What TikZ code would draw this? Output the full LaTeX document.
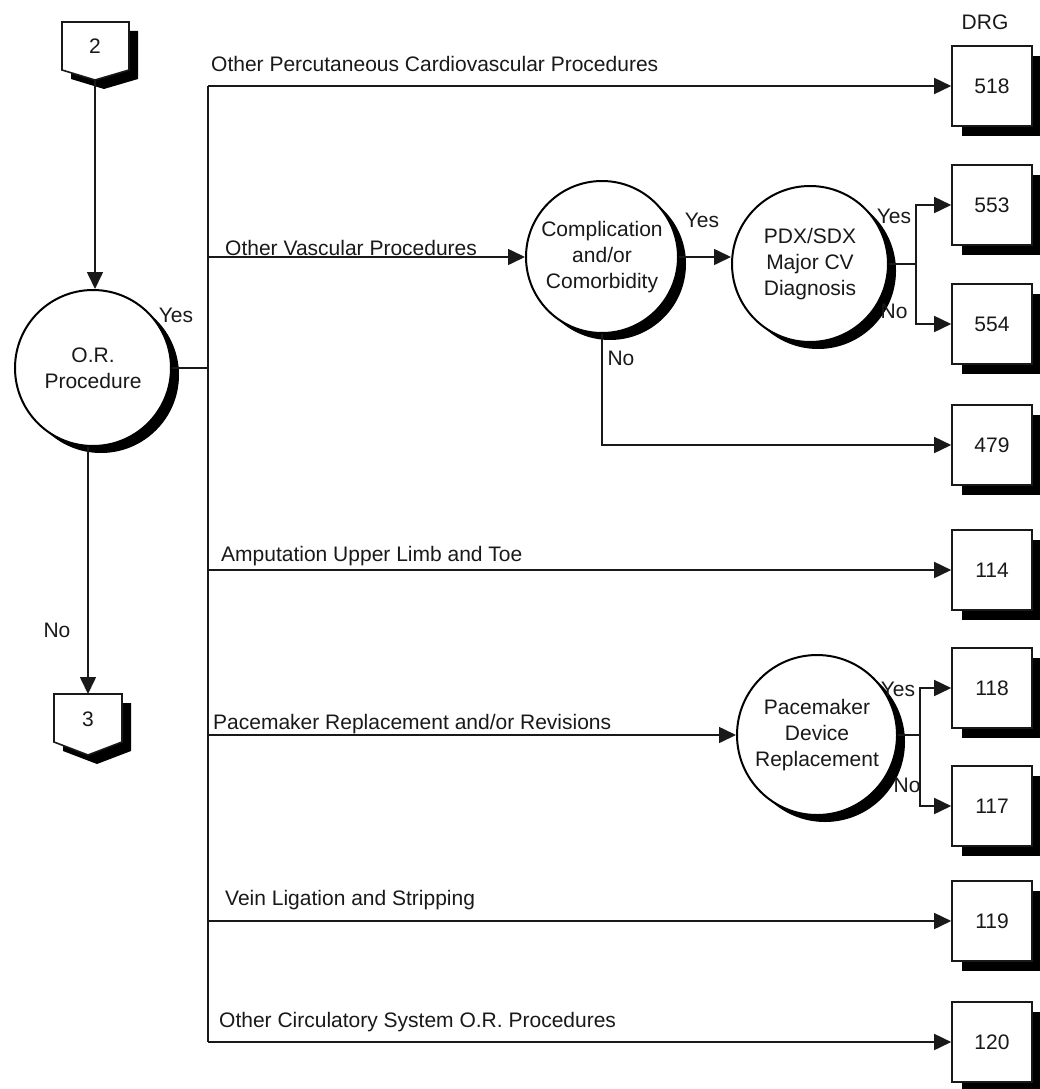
\documentclass[tikz,border=0pt]{standalone}
\usepackage{fontspec}
\setmainfont{Liberation Sans}
\usetikzlibrary{arrows.meta,shadows}
\begin{document}
\begin{tikzpicture}[x=1pt,y=-1pt,
  every node/.style={text=black!90},
  ln/.style={line width=1.6pt, draw=black!90},
  arr/.style={ln, -{Triangle[length=17pt,width=16pt]}},
  txt/.style={font=\fontsize{21}{26}\selectfont, inner sep=0pt},
  drg/.style={txt, draw=black!90, line width=1.6pt, fill=white, minimum width=80pt, minimum height=80pt,
    drop shadow={shadow xshift=10pt, shadow yshift=-10pt, opacity=1, fill=black}},
  dec/.style={txt, circle, draw=black, line width=2pt, fill=white, align=center,
    drop shadow={shadow xshift=8pt, shadow yshift=-7pt, opacity=1, fill=black}},
  lbl/.style={txt, anchor=base west},
]
\useasboundingbox (0,0) rectangle (1040,1089);

% off-page connector 2
\begin{scope}[shift={(9,9)}]
  \fill[black] (62,22) -- (129,22) -- (129,70) -- (95,80) -- (62,70) -- cycle;
\end{scope}
\draw[ln, fill=white] (62,22) -- (129,22) -- (129,70) -- (95,80) -- (62,70) -- cycle;
\node[txt] (c2) at (95,46) {2};
\coordinate (c2tip) at (95,80);

% off-page connector 3
\begin{scope}[shift={(9,9)}]
  \fill[black] (54,694) -- (122,694) -- (122,742) -- (88,755) -- (54,742) -- cycle;
\end{scope}
\draw[ln, fill=white] (54,694) -- (122,694) -- (122,742) -- (88,755) -- (54,742) -- cycle;
\node[txt] (c3) at (88,719) {3};
\coordinate (c3top) at (88,694);

% decisions
\node[dec, minimum size=156pt] (or) at (93,368) {O.R.\\Procedure};
\node[dec, minimum size=152pt] (comp) at (602,257) {Complication\\and/or\\Comorbidity};
\node[dec, minimum size=156pt] (pdx) at (810,264) {PDX/SDX\\Major CV\\Diagnosis};
\node[dec, minimum size=160pt] (pace) at (817,735) {Pacemaker\\Device\\Replacement};

% DRG boxes
\node[txt] (drglbl) at (985,22) {DRG};
\node[drg] (d518) at (992,86) {518};
\node[drg] (d553) at (992,205) {553};
\node[drg] (d554) at (992,324) {554};
\node[drg] (d479) at (992,445) {479};
\node[drg] (d114) at (992,570) {114};
\node[drg] (d118) at (992,688) {118};
\node[drg] (d117) at (992,806) {117};
\node[drg] (d119) at (992,921) {119};
\node[drg] (d120) at (992,1042) {120};

% trunk
\coordinate (ttop) at (208,86);
\coordinate (tbot) at (208,1042);
\draw[ln] (ttop) -- (tbot);
\coordinate (b2) at (208,257);
\coordinate (b4) at (208,570);
\coordinate (b5) at (208,735);
\coordinate (b6) at (208,921);

\draw[arr] (c2tip) -- (c2tip |- or.north);
\draw[arr] (or.south -| c3top) -- (c3top);
\draw[ln] (or.east) -- (or.east -| ttop);

\draw[arr] (ttop) -- (d518.west);
\draw[arr] (b2) -- (comp.west);
\draw[arr] (b4) -- (d114.west);
\draw[arr] (b5) -- (pace.west);
\draw[arr] (b6) -- (d119.west);
\draw[arr] (tbot) -- (d120.west);

\draw[arr] (comp.east) -- (comp.east -| pdx.west);
\coordinate (f1) at (916,264);
\draw[ln] (pdx.east) -- (f1);
\draw[arr] (f1) |- (d553.west);
\draw[arr] (f1) |- (d554.west);
\draw[arr] (comp.south) |- (d479.west);

\coordinate (f2) at (920,735);
\draw[ln] (pace.east) -- (f2);
\draw[arr] (f2) |- (d118.west);
\draw[arr] (f2) |- (d117.west);

% yes/no labels
\node[txt] (yor) at (176,315) {Yes};
\node[txt] (nor) at (57,630) {No};
\node[txt] (ycomp) at (702,220) {Yes};
\node[txt] (ncomp) at (621,358) {No};
\node[txt] (ypdx) at (894,216) {Yes};
\node[txt] (npdx) at (894,311) {No};
\node[txt] (ypace) at (898,689) {Yes};
\node[txt] (npace) at (907,785) {No};

% branch labels
\node[lbl] (l1) at (211,72) {Other Percutaneous Cardiovascular Procedures};
\node[lbl] (l2) at (225,255) {Other Vascular Procedures};
\node[lbl] (l4) at (221,561) {Amputation Upper Limb and Toe};
\node[lbl] (l5) at (213,729) {Pacemaker Replacement and/or Revisions};
\node[lbl] (l6) at (225,905) {Vein Ligation and Stripping};
\node[lbl] (l7) at (219,1027) {Other Circulatory System O.R. Procedures};
\end{tikzpicture}
\end{document}
